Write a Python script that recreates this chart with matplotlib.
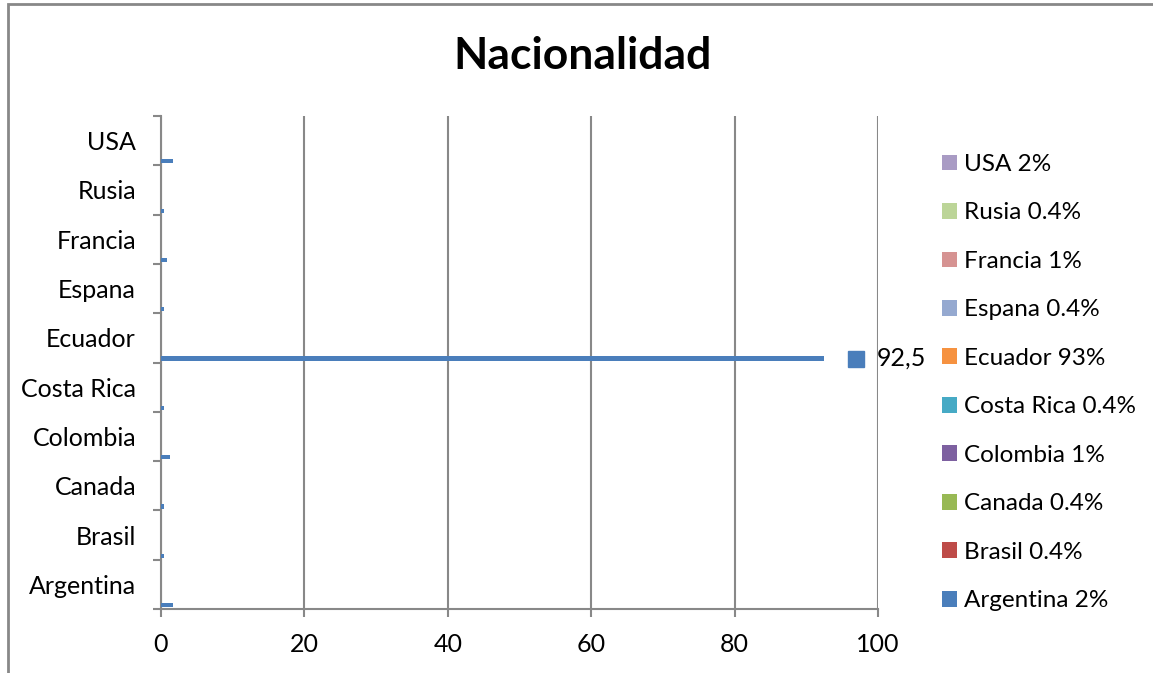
import matplotlib
matplotlib.use("Agg")
import matplotlib.pyplot as plt
from matplotlib.patches import Patch, Rectangle
from matplotlib.transforms import offset_copy
from matplotlib.ticker import MultipleLocator, FixedLocator, NullFormatter

# datos de la encuesta (porcentaje de encuestados por pais)
paises = ["Argentina", "Brasil", "Canada", "Colombia", "Costa Rica",
          "Ecuador", "Espana", "Francia", "Rusia", "USA"]
valores = [1.7, 0.4, 0.4, 1.2, 0.4, 92.5, 0.4, 0.8, 0.4, 1.7]
etiquetas_pct = ["2%", "0.4%", "0.4%", "1%", "0.4%",
                 "93%", "0.4%", "1%", "0.4%", "2%"]
colores = ["#4A7EBB", "#BE4B48", "#98B954", "#7D60A0", "#46AAC5",
           "#F69240", "#95A9D0", "#D69392", "#BCD598", "#A99BC4"]

plt.rcParams['font.family'] = ['Lato', 'DejaVu Sans']
gris = "#888888"

fig = plt.figure(figsize=(11.53, 6.73), dpi=100, facecolor="white")
ax = fig.add_axes([161 / 1153, 64 / 673, 717 / 1153, 493 / 673])

pos = list(range(len(paises)))
# barras pegadas al borde inferior de cada categoria
ax.barh([p - 0.42 for p in pos], valores, height=0.085,
        color=colores[0], zorder=3)

ax.set_xlim(0, 100)
ax.set_ylim(-0.5, len(paises) - 0.5)
ax.xaxis.set_major_locator(MultipleLocator(20))
ax.grid(axis="x", color=gris, lw=1.5, zorder=0)

ax.set_yticks(pos)
ax.set_yticklabels(paises)
ax.yaxis.set_minor_locator(FixedLocator([p - 0.5 for p in pos] + [len(pos) - 0.5]))
ax.yaxis.set_minor_formatter(NullFormatter())
ax.tick_params(axis="y", which="major", length=0, pad=18, labelsize=18)
ax.tick_params(axis="y", which="minor", length=6, width=1.5, color=gris)
ax.tick_params(axis="x", length=6, width=1.5, color=gris, pad=11, labelsize=18)

for lado in ("top", "right"):
    ax.spines[lado].set_visible(False)
for lado in ("left", "bottom"):
    ax.spines[lado].set_color(gris)
    ax.spines[lado].set_linewidth(1.5)

# etiqueta de dato con clave de leyenda para Ecuador
i_max = valores.index(max(valores))
y_lbl = i_max - 0.42
ax.plot(valores[i_max], y_lbl, marker="s", ms=11, color=colores[0],
        transform=offset_copy(ax.transData, fig, x=32, units="dots"),
        clip_on=False, zorder=4)
ax.annotate(f"{valores[i_max]}".replace(".", ","), xy=(valores[i_max], y_lbl),
            xytext=(53, 0), textcoords="offset pixels", va="center",
            ha="left", fontsize=18, annotation_clip=False)

fig.suptitle("Nacionalidad", x=583 / 1153, y=1 - 36 / 673, va="top",
             fontsize=32, fontweight="bold")

handles = [Patch(facecolor=c, edgecolor="none") for c in colores]
labels = [f"{p} {s}" for p, s in zip(paises, etiquetas_pct)]
fig.legend(handles[::-1], labels[::-1], loc="upper left",
           bbox_to_anchor=(942 / 1153, 1 - 154 / 673), frameon=False,
           fontsize=17.5, handlelength=0.62, handleheight=0.62,
           handletextpad=0.3, labelspacing=1.13, borderpad=0,
           borderaxespad=0)

# marco del area del grafico
fig.add_artist(Rectangle((7.5 / 1153, -0.1), 2, 1 - 4 / 673 + 0.1,
                         transform=fig.transFigure, fill=False,
                         edgecolor=gris, lw=2))

fig.savefig("out.png", dpi=100)
